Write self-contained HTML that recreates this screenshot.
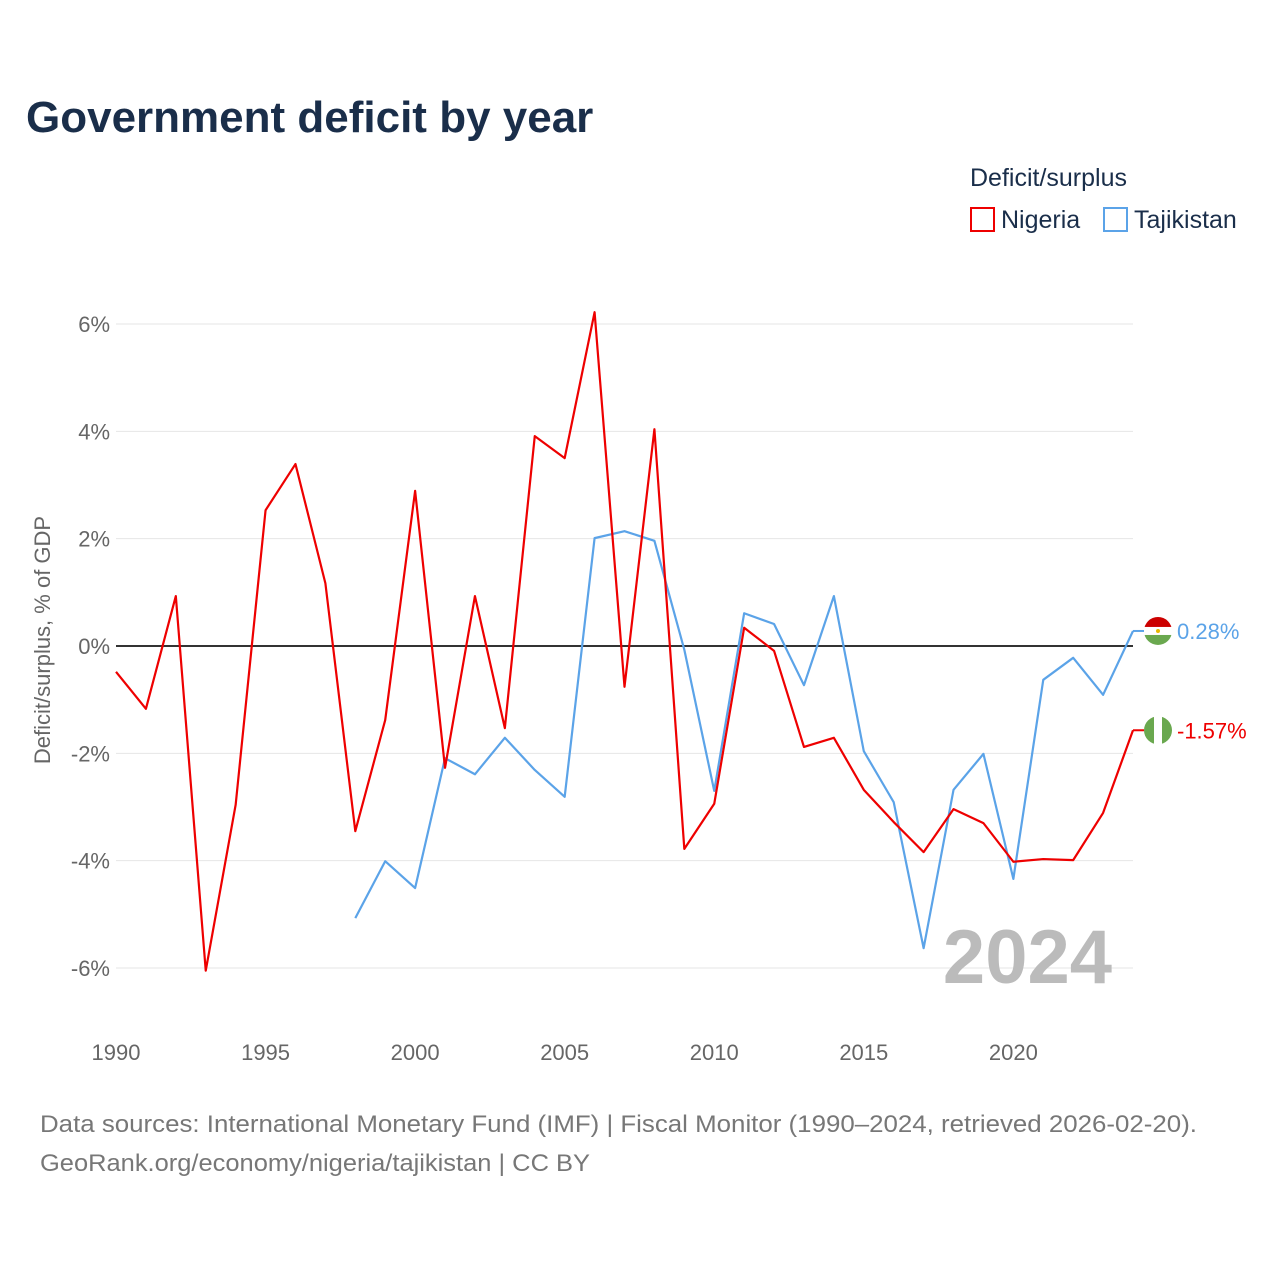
<!DOCTYPE html>
<html><head><meta charset="utf-8"><style>
body{margin:0;background:#fff;font-family:"Liberation Sans",sans-serif}
svg text{font-family:"Liberation Sans",sans-serif}
</style></head><body>
<svg id="c" width="1280" height="1280">
<text x="26" y="132" font-size="44" font-weight="bold" fill="#1a2e4a">Government deficit by year</text>
<text x="970" y="186" font-size="25" fill="#1a2e4a">Deficit/surplus</text>
<g><rect x="971" y="208" width="23" height="23" fill="none" stroke="#e00" stroke-width="2"/><text x="1001" y="228" font-size="25" fill="#1a2e4a">Nigeria</text></g>
<g><rect x="1104" y="208" width="23" height="23" fill="none" stroke="#5ba3e8" stroke-width="2"/><text x="1134" y="228" font-size="25" fill="#1a2e4a">Tajikistan</text></g>
<text transform="translate(50,640) rotate(-90)" text-anchor="middle" font-size="22" fill="#666">Deficit/surplus, % of GDP</text>
<g id="grid"></g><g id="ticks"></g>
<text x="1112" y="983" text-anchor="end" font-size="76" font-weight="bold" fill="#bbb">2024</text>
<g id="lines"></g>
<text x="40" y="1132" font-size="24" fill="#777" textLength="1157" lengthAdjust="spacingAndGlyphs">Data sources: International Monetary Fund (IMF) | Fiscal Monitor (1990–2024, retrieved 2026-02-20).</text>
<text x="40" y="1171" font-size="24" fill="#777" textLength="550" lengthAdjust="spacingAndGlyphs">GeoRank.org/economy/nigeria/tajikistan | CC BY</text>
</svg>
<script>
const years=[];for(let y=1990;y<=2024;y++)years.push(y);
const nigeria=[-0.48,-1.17,0.93,-6.05,-2.96,2.53,3.39,1.17,-3.45,-1.38,2.89,-2.27,0.93,-1.53,3.91,3.50,6.22,-0.76,4.04,-3.78,-2.94,0.34,-0.09,-1.88,-1.71,-2.68,-3.28,-3.84,-3.04,-3.30,-4.02,-3.97,-3.99,-3.11,-1.57];
const tajikYears=[];for(let y=1998;y<=2024;y++)tajikYears.push(y);
const tajikistan=[-5.07,-4.01,-4.51,-2.09,-2.39,-1.71,-2.31,-2.81,2.01,2.14,1.96,-0.07,-2.70,0.61,0.41,-0.73,0.93,-1.96,-2.91,-5.63,-2.68,-2.01,-4.34,-0.63,-0.22,-0.91,0.28];
const yTicks=[-6,-4,-2,0,2,4,6];
const xTicks=[1990,1995,2000,2005,2010,2015,2020];
const X=y=>116+(y-1990)*(1133-116)/34;
const Y=v=>646-v*53.67;
const NS="http://www.w3.org/2000/svg";
function mk(p,t,a){const e=document.createElementNS(NS,t);for(const k in a)e.setAttribute(k,a[k]);p.appendChild(e);return e;}
const grid=document.getElementById('grid'),ticks=document.getElementById('ticks'),lines=document.getElementById('lines');
yTicks.forEach(v=>{
 const l=mk(grid,'line',{x1:116,x2:1133,y1:Y(v),y2:Y(v),stroke:v==0?'#333':'#e6e6e6','stroke-width':v==0?2:1});
 
 
 const t=mk(ticks,'text',{x:110,y:Y(v)+8,'text-anchor':'end','font-size':22,fill:'#666'});t.textContent=v+'%';
 
 
});
xTicks.forEach(y=>{
 const t=mk(ticks,'text',{x:X(y),y:1060,'text-anchor':'middle','font-size':22,fill:'#666'});t.textContent=y;
 
 
});
function line(xs,vs,c,name){
 const p=mk(lines,'polyline',{points:xs.map((y,i)=>X(y)+','+Y(vs[i])).join(' '),fill:'none',stroke:c,'stroke-width':2.2,'stroke-linejoin':'round'});
 
 
}
line(tajikYears,tajikistan,'#5ba3e8','tajikistan-line');
line(years,nigeria,'#e00','nigeria-line');
function flag(v,kind,c,name){
 const cy=Y(v),cx=1158,g=mk(lines,'g',{});
 
 
 const cp=mk(g,'clipPath',{id:'cp'+kind});mk(cp,'circle',{cx,cy,r:14});
 const gg=mk(g,'g',{'clip-path':'url(#cp'+kind+')'});
 if(kind=='tj'){mk(gg,'rect',{x:cx-14,y:cy-14,width:28,height:10,fill:'#cc0000'});mk(gg,'rect',{x:cx-14,y:cy-4,width:28,height:8,fill:'#fff'});mk(gg,'rect',{x:cx-14,y:cy+4,width:28,height:10,fill:'#6aa84f'});mk(gg,'circle',{cx,cy,r:2,fill:'#e6b800'});}
 else{mk(gg,'rect',{x:cx-14,y:cy-14,width:10,height:28,fill:'#6aa84f'});mk(gg,'rect',{x:cx-4,y:cy-14,width:8,height:28,fill:'#fff'});mk(gg,'rect',{x:cx+4,y:cy-14,width:10,height:28,fill:'#6aa84f'});}
 mk(g,'line',{x1:X(2024),x2:cx-14,y1:cy,y2:cy,stroke:c,'stroke-width':2});
 const t=mk(g,'text',{x:1177,y:cy+8,'font-size':22,fill:c});t.textContent=v.toFixed(2)+'%';
}
flag(tajikistan[tajikistan.length-1],'tj','#5ba3e8','tajikistan-end-label');
flag(nigeria[nigeria.length-1],'ng','#e00','nigeria-end-label');
</script>
</body></html>
